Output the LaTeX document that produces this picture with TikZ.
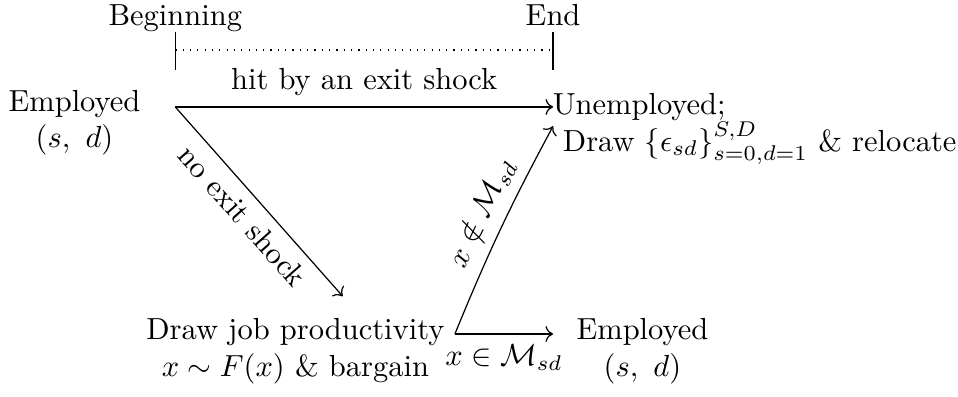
\documentclass[tikz,border=0pt]{standalone}
\usepackage{amssymb}
\usepackage{amsmath}
\usepackage{tikz}
\usetikzlibrary{arrows.meta, positioning, calc}

\begin{document}
\begin{tikzpicture}[
  x=1.01cm, y=1.01cm,
  state/.style = {align=center, inner sep=2pt},
  arr/.style   = {->},
  lbl/.style   = {font=\normalsize},
  tick/.style  = {line width=0.4pt}
]
\useasboundingbox (0,0) rectangle (10.93,-4.52);

%% ── Timeline ──────────────────────────────────────────────────────────────
\coordinate (tbeg) at (2.00,-0.57);
\coordinate (tend) at (6.31,-0.57);
\draw[tick] ($(tbeg)+(0,0.21)$) -- ($(tbeg)+(0,-0.23)$);
\draw[tick] ($(tend)+(0,0.21)$) -- ($(tend)+(0,-0.23)$);
\draw[dotted] (tbeg) -- (tend);
\node[anchor=base] (begin) at (2.00,-0.29) {Beginning};
\node[anchor=base] (end)   at (6.31,-0.29) {End};

%% ── Junction points ───────────────────────────────────────────────────────
\coordinate (hit)   at (2.00,-1.22);
\coordinate (unemp) at (6.31,-1.22);
\coordinate (ufoot) at (6.31,-1.44);
\coordinate (drawp) at (3.91,-3.38);
\coordinate (barg)  at (5.19,-3.81);
\coordinate (emp2p) at (6.31,-3.81);

%% ── States ────────────────────────────────────────────────────────────────
\node[state] (emp1) at (0.85,-1.40) {Employed\\$(s,\ d)$};
\node[state, anchor=west, align=left, inner sep=0pt]
  (unem) at (6.30,-1.47) {Unemployed;\\\ Draw $\{\epsilon_{sd}\}_{s=0,d=1}^{S,D}$ \& relocate};
\node[state] (draw) at (3.37,-4.01) {Draw job productivity\\$x\sim F(x)$ \& bargain};
\node[state] (emp2) at (7.33,-4.01) {Employed\\$(s,\ d)$};

%% ── Transitions ───────────────────────────────────────────────────────────
\draw[arr] (hit) -- node[lbl, above] {hit by an exit shock} (unemp);
\draw[arr] (hit) -- node[lbl, below, sloped] {no exit shock} (drawp);
\draw[arr] (barg) to[bend left=3] node[lbl, above, sloped, pos=0.53] {$x\notin\mathcal{M}_{sd}$} (ufoot);
\draw[arr] (barg) -- node[lbl, below] {$x\in\mathcal{M}_{sd}$} (emp2p);

\end{tikzpicture}
\end{document}
